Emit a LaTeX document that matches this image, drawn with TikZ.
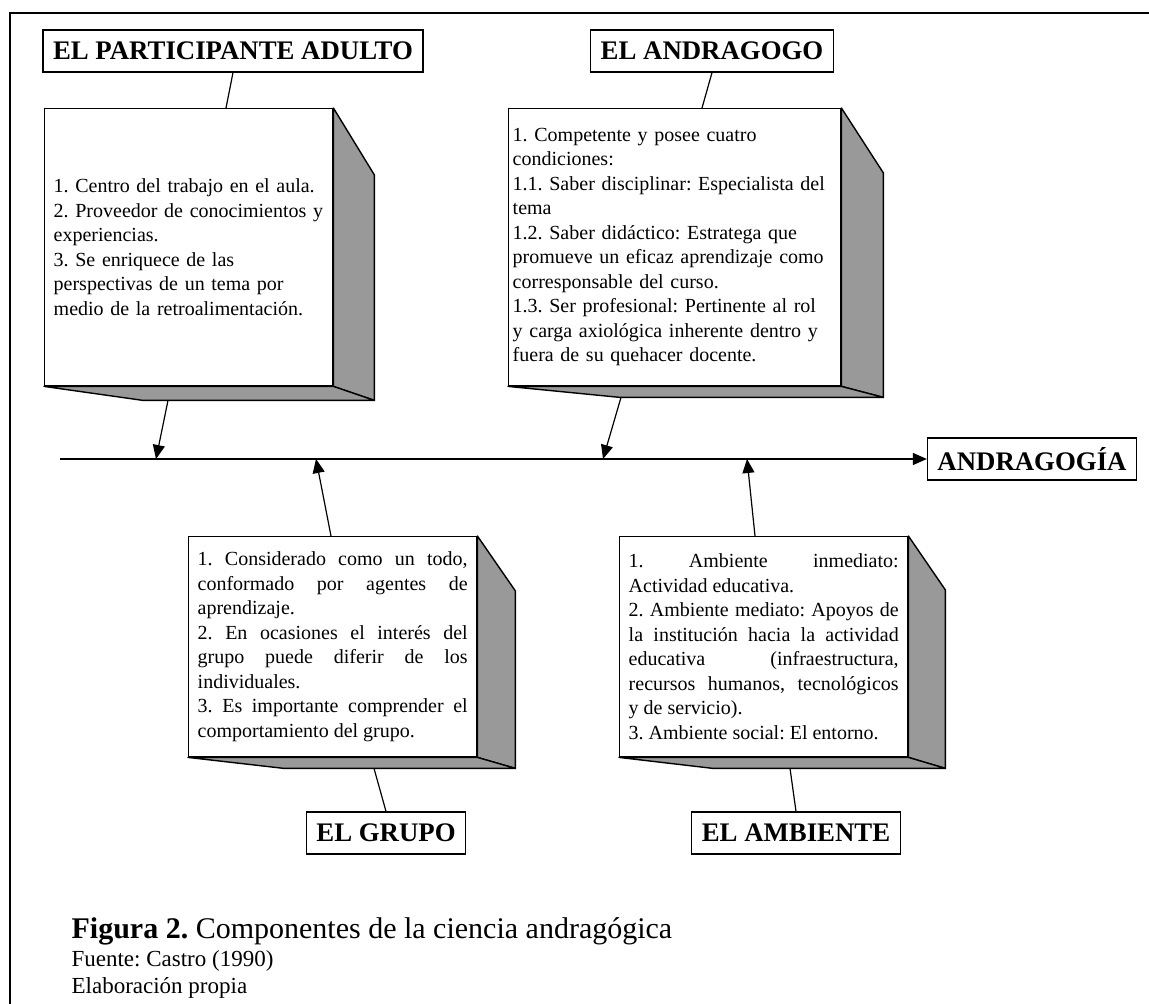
\documentclass[tikz,border=0pt]{standalone}
\usepackage{fontspec}
\setmainfont{Liberation Serif}
\frenchspacing
\usetikzlibrary{calc,arrows.meta}

\begin{document}
\begin{tikzpicture}[x=0.5pt, y=-0.5pt, line width=0.6pt, >={Triangle[length=7pt,width=6pt]},
  title/.style={draw, inner xsep=5pt, inner ysep=0pt, minimum height=21pt, font=\fontsize{13.4pt}{16pt}\selectfont\bfseries},
  front/.style={draw, fill=white, line width=0.7pt, anchor=north west, font=\fontsize{10pt}{12.25pt}\selectfont},
  face/.style={draw, fill=black!40, line width=0.7pt, line join=round}]
\useasboundingbox (0,0) rectangle (1149,1004);
\draw[line width=1.25pt] (10,1004) -- (10,13) -- (1149,13);

\node[title] (t1) at (233,51) {EL PARTICIPANTE ADULTO};
\node[title] (t2) at (712,51) {EL ANDRAGOGO};
\node[title] (t3) at (386,833) {EL GRUPO};
\node[title] (t4) at (796,833) {EL AMBIENTE};
\node[title] (andr) at (1032,459) {ANDRAGOGÍA};

\node[front, text width=135pt, inner xsep=4.5pt, align=left, minimum width=144pt, minimum height=138.5pt] (b1) at (44,108) {1. Centro del trabajo en el aula.\\ 2. Proveedor de conocimientos y\\ experiencias.\\ 3. Se enriquece de las\\ perspectivas de un tema por\\ medio de la retroalimentación.};
\node[front, text width=162pt, inner xsep=2pt, align=left, minimum width=166pt, minimum height=138.5pt] (b2) at (508,108) {1. Competente y posee cuatro\\ condiciones:\\ 1.1. Saber disciplinar: Especialista del\\ tema\\ 1.2. Saber didáctico: Estratega que\\ promueve un eficaz aprendizaje como\\ corresponsable del curso.\\ 1.3. Ser profesional: Pertinente al rol\\ y carga axiológica inherente dentro y\\ fuera de su quehacer docente.};
\node[front, text width=135pt, inner xsep=4.5pt, align=justify, minimum width=144pt, minimum height=110pt] (b3) at (188,536) {1. Considerado como un todo,\linebreak conformado por agentes de\linebreak aprendizaje.\\ 2. En ocasiones el interés del\linebreak grupo puede diferir de los\linebreak individuales.\\ 3. Es importante comprender el\linebreak comportamiento del grupo.};
\node[front, text width=135pt, inner xsep=4.5pt, align=justify, minimum width=144pt, minimum height=110pt] (b4) at (619,536) {1. Ambiente inmediato:\linebreak Actividad educativa.\\ 2. Ambiente mediato: Apoyos de\linebreak la institución hacia la actividad\linebreak educativa (infraestructura,\linebreak recursos humanos, tecnológicos\linebreak y de servicio).\\ 3. Ambiente social: El entorno.};

\path[face] (b1.north east) -- ++(41,67) -- ($(b1.south east)+(41,14)$) -- (b1.south east) -- cycle;
\path[face] (b1.south west) -- ++(99,14) -- ($(b1.south east)+(41,14)$) -- (b1.south east) -- cycle;
\path[face] (b2.north east) -- ++(42,65) -- ($(b2.south east)+(42,11)$) -- (b2.south east) -- cycle;
\path[face] (b2.south west) -- ++(112,11) -- ($(b2.south east)+(42,11)$) -- (b2.south east) -- cycle;
\path[face] (b3.north east) -- ++(38,55) -- ($(b3.south east)+(38,11)$) -- (b3.south east) -- cycle;
\path[face] (b3.south west) -- ++(96,11) -- ($(b3.south east)+(38,11)$) -- (b3.south east) -- cycle;
\path[face] (b4.north east) -- ++(37,54) -- ($(b4.south east)+(37,11)$) -- (b4.south east) -- cycle;
\path[face] (b4.south west) -- ++(94,11) -- ($(b4.south east)+(37,11)$) -- (b4.south east) -- cycle;

\coordinate (axis) at (60,459);
\coordinate (p1) at (156,459);
\coordinate (p2) at (603,459);
\coordinate (p3) at (316,459);
\coordinate (p4) at (747,459);
\draw[->] (axis) -- (andr.west);
\draw[->] ($(b1.south west)+(124,14)$) -- (p1);
\draw[->] ($(b2.south west)+(113,11)$) -- (p2);
\draw[->] ($(b3.north west)+(143,0)$) -- (p3);
\draw[->] ($(b4.north west)+(136,0)$) -- (p4);
\draw (t1.south) -- ($(b1.north west)+(182,0)$);
\draw (t2.south) -- ($(b2.north west)+(194,0)$);
\draw ($(b3.south west)+(186,11)$) -- (t3.north);
\draw ($(b4.south west)+(171,11)$) -- (t4.north);

\node[anchor=base west, inner sep=0pt, font=\fontsize{15pt}{17pt}\selectfont] (fig) at (71,938) {\textbf{Figura 2.} Componentes de la ciencia andragógica};
\node[anchor=base west, inner sep=0pt, font=\fontsize{11.5pt}{14pt}\selectfont] (src) at (71,966) {Fuente: Castro (1990)};
\node[anchor=base west, inner sep=0pt, font=\fontsize{11.5pt}{14pt}\selectfont] (own) at (71,993) {Elaboración propia};
\end{tikzpicture}
\end{document}
